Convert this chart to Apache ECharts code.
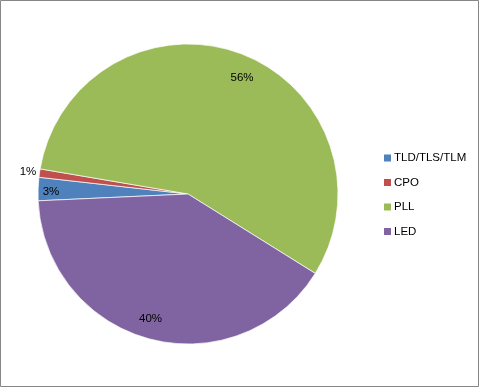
<!DOCTYPE html>
<html>
<head>
<meta charset="utf-8">
<script src="https://cdn.jsdelivr.net/npm/echarts@6/dist/echarts.min.js"></script>
<style>
html,body{margin:0;padding:0;background:#fff;}
#c{width:480px;height:388px;}
</style>
</head>
<body>
<div id="c"></div>
<script>
// Data
const categories = ['TLD/TLS/TLM', 'CPO', 'PLL', 'LED'];
const values = [2.5, 0.9, 56.2, 40.4];

// Styles
const colors = ['#4F81BD', '#C0504D', '#9BBB59', '#8064A2'];
const center = [188, 194];
const labelOffsets = [[-137, -2], [-160, -22], [54, -116], [-37.5, 125]];

const chart = echarts.init(document.getElementById('c'), null, {renderer: 'canvas'});
chart.setOption({
  animation: false,
  backgroundColor: '#fff',
  color: colors,
  graphic: [{
    type: 'rect',
    shape: {x: 0.5, y: 0.5, width: 478, height: 386},
    style: {fill: 'none', stroke: '#868686', lineWidth: 1},
    silent: true
  }],
  legend: {
    orient: 'vertical',
    left: 384,
    top: 152,
    padding: 0,
    itemWidth: 7,
    itemHeight: 7,
    itemGap: 12.5,
    icon: 'rect',
    itemStyle: {borderWidth: 0},
    textStyle: {fontFamily: 'Liberation Sans', fontSize: 11.5, lineHeight: 12, color: '#000', padding: [0, 0, 0, -2]},
    data: categories
  },
  series: [{
    type: 'pie',
    center: center,
    radius: 150,
    startAngle: 182.6,
    clockwise: true,
    avoidLabelOverlap: false,
    itemStyle: {borderColor: '#fff', borderWidth: 0.7},
    label: {
      show: true,
      position: 'inside',
      fontFamily: 'Liberation Sans',
      fontSize: 11.5,
      color: '#000',
      formatter: p => Math.round(p.percent) + '%'
    },
    labelLine: {show: false},
    labelLayout: function (p) {
      const o = labelOffsets[p.dataIndex];
      return {x: center[0] + o[0], y: center[1] + o[1], align: 'center', verticalAlign: 'middle'};
    },
    data: categories.map((n, i) => ({name: n, value: values[i]}))
  }]
});
</script>
</body>
</html>
